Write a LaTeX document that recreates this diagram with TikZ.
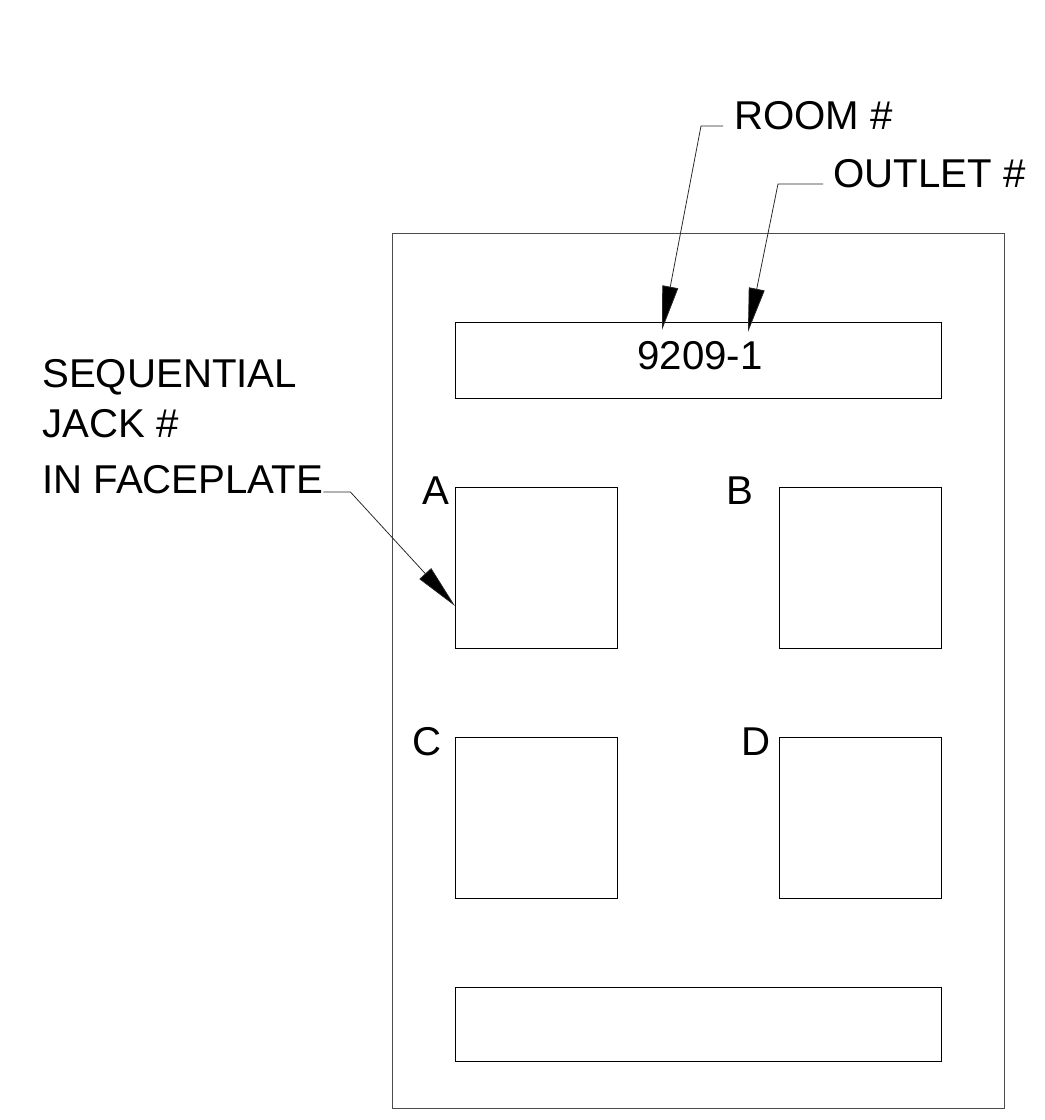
\documentclass[tikz,border=0pt]{standalone}
\usepackage{fontspec}
\setmainfont{Liberation Sans}
\usepackage{tikz}
\usetikzlibrary{arrows.meta,positioning}

\newcommand{\tagfont}{\fontsize{28.6}{37.5}\selectfont}

\begin{document}
\begin{tikzpicture}[
        x=0.025cm, y=-0.025cm,
        plate/.style={rectangle, draw=black!70, line width=0.6pt, inner sep=0pt, anchor=north west},
        box/.style={rectangle, draw, line width=0.6pt, inner sep=0pt, anchor=north west},
        jack/.style={box, minimum width=4.05cm, minimum height=4.025cm},
        tag/.style={inner sep=0pt, anchor=base west, font=\tagfont},
        leader/.style={draw=black!85, line width=0.55pt, -{Triangle[length=1.1cm, width=0.4cm, fill=black]}}
    ]
        \useasboundingbox (0,0) rectangle (1045,1120);

        \node[plate, minimum width=15.3cm, minimum height=21.875cm] (plate) at (392,233) {};
        \node[box, minimum width=12.15cm, minimum height=1.9cm] (idbox) at (455,322) {};
        \node[box, minimum width=12.15cm, minimum height=1.85cm] (blank) at (455,987) {};

        \node[jack] (jackA) at (455,487) {};
        \node[jack] (jackB) at (779,487) {};
        \node[jack] (jackC) at (455,737) {};
        \node[jack] (jackD) at (779,737) {};

        \node[tag] (labA) at (422,504) {A};
        \node[tag] (labB) at (726,504) {B};
        \node[tag] (labC) at (412,755) {C};
        \node[tag] (labD) at (741,755) {D};

        \node[tag, anchor=base] (outletid) at (700,369) {9209-1};

        \node[tag] (room) at (734,129) {ROOM \#};
        \node[tag] (outlet) at (833,187) {OUTLET \#};
        \node[tag] (seq1) at (42,387) {SEQUENTIAL};
        \node[tag] (seq2) at (42,437) {JACK \#};
        \node[tag] (seq3) at (42,493) {IN FACEPLATE};

        \coordinate (roomtip) at (662,330);
        \coordinate (outlettip) at (748,332);
        \coordinate (jacktip) at (455,606);

        \draw[leader] (room.base west) ++(-11,-3) -- ++(-22,0) -- (roomtip);
        \draw[leader] (outlet.base west) ++(-10,-3) -- ++(-45,0) -- (outlettip);
        \draw[leader] (seq3.base east) ++(0,-1) -- ++(27,0) -- (jacktip);
    \end{tikzpicture}
\end{document}
